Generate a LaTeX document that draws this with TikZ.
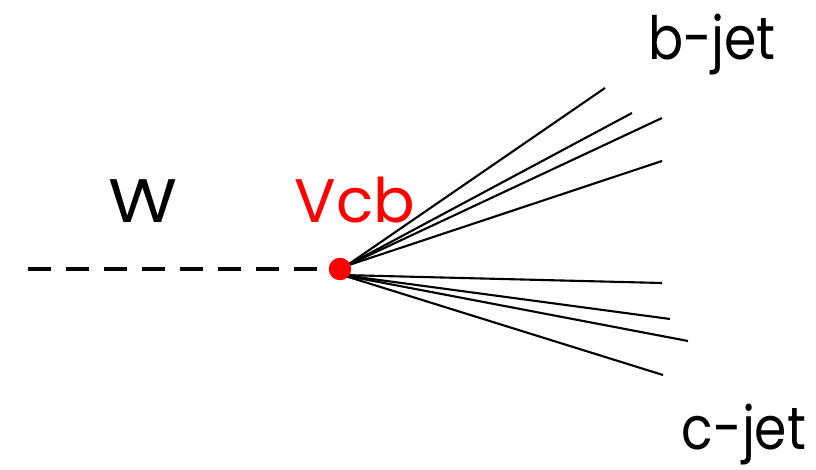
\documentclass[tikz,border=0pt]{standalone}
\usepackage{fontspec}
\setmainfont{Poppins}
\newfontfamily\jetfont[FakeStretch=0.87]{Poppins}
\newfontfamily\wfont[FakeStretch=1.15]{Poppins}
\usepackage{xcolor}
\usetikzlibrary{positioning}
\tikzstyle{jet} = [line width=1.2pt, black]
\tikzstyle{label} = [inner sep=0pt, anchor=base, font=\fontsize{35}{40}\selectfont]

\begin{document}
\begin{tikzpicture}[x=0.02cm, y=0.02cm]
    % Frame
    \useasboundingbox (0,0) rectangle (816,470);

    % W propagator
    \coordinate (wstart) at (28,201);
    \coordinate (vtx) at (340,201);
    \draw[line width=2.3pt, dash pattern=on 0.46cm off 0.30cm] (wstart) -- (vtx);
    \node[label, font=\fontsize{35}{40}\wfont] (wlabel) at (143,247) {W};

    % jet origins
    \coordinate (borig) at (346,204);
    \coordinate (corig) at (342,195);

    % b-jet
    \coordinate (b1) at (605,382);
    \coordinate (b2) at (632,357);
    \coordinate (b3) at (662,352);
    \coordinate (b4) at (662,309);
    \foreach \e in {b1,b2,b3,b4}
        \draw[jet] (borig) -- (\e);
    \node[label, font=\fontsize{34}{40}\jetfont] (blabel) at (712,410) {b-jet};

    % c-jet
    \coordinate (c1) at (662,187);
    \coordinate (c2) at (670,151);
    \coordinate (c3) at (688,129);
    \coordinate (c4) at (663,95);
    \foreach \e in {c1,c2,c3,c4}
        \draw[jet] (corig) -- (\e);
    \node[label, font=\fontsize{34}{40}\jetfont] (clabel) at (744,20) {c-jet};

    % Vertex
    \node[circle, fill=red, inner sep=0pt, minimum size=0.45cm] (dot) at (vtx) {};
    \node[label, text=red] (vcb) at (355,247) {Vcb};
\end{tikzpicture}
\end{document}
